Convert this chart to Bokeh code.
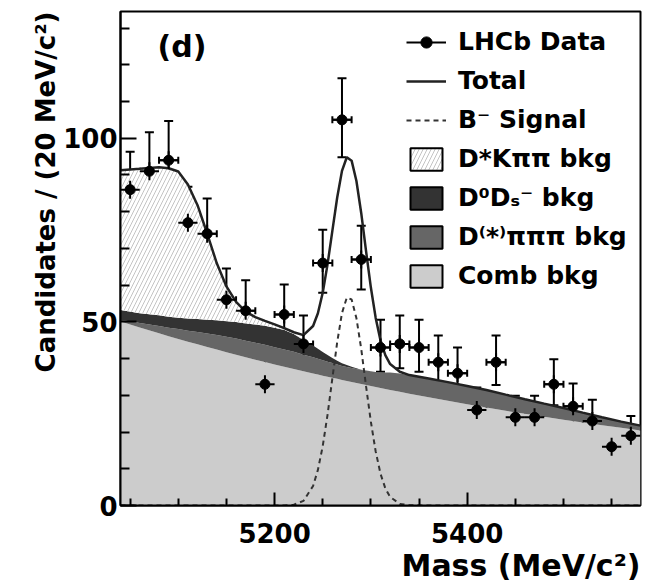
import math
from bokeh.plotting import figure
from bokeh.models import (ColumnDataSource, FixedTicker, Range1d, Legend, LegendItem,
                          Label, Whisker, TeeHead, Title)
from bokeh.embed import file_html
from bokeh.resources import INLINE

# ---------------- data ----------------
bin_centers = [5050, 5070, 5090, 5110, 5130, 5150, 5170, 5190, 5210, 5230, 5250, 5270, 5290,
               5310, 5330, 5350, 5370, 5390, 5410, 5430, 5450, 5470, 5490, 5510, 5530, 5550, 5570]
counts = [86, 91, 94, 77, 74, 56, 53, 33, 52, 44, 66, 105, 67,
          43, 44, 43, 39, 36, 26, 39, 24, 24, 33, 27, 23, 16, 19]
err_up = [10.3, 10.6, 10.7, 9.8, 9.6, 8.5, 8.3, 6.8, 8.2, 7.7, 9.1, 11.3, 9.2,
          7.6, 7.7, 7.6, 7.3, 7.0, 6.1, 7.3, 5.9, 5.9, 6.8, 6.2, 5.8, 5.1, 5.4]
err_lo = [9.3, 9.5, 9.7, 8.8, 8.6, 7.5, 7.3, 5.7, 7.2, 6.6, 8.1, 10.2, 8.2,
          6.6, 6.6, 6.6, 6.2, 6.0, 5.1, 6.2, 4.9, 4.9, 5.7, 5.2, 4.8, 4.0, 4.3]
bin_half_width = 10

fit_mass = [5040, 5060, 5080, 5090, 5100, 5110, 5120, 5130, 5140, 5150, 5160, 5170, 5180,
            5190, 5200, 5210, 5220, 5230, 5240, 5245, 5250, 5255, 5260, 5265, 5270, 5275,
            5280, 5285, 5290, 5295, 5300, 5305, 5310, 5315, 5320, 5330, 5340, 5360, 5380,
            5400, 5420, 5440, 5460, 5480, 5500, 5520, 5540, 5560, 5580]
comb_bkg = [50.10, 48.46, 46.88, 46.11, 45.35, 44.60, 43.87, 43.15, 42.44, 41.74, 41.05, 40.38,
            39.71, 39.06, 38.41, 37.78, 37.16, 36.55, 35.95, 35.65, 35.36, 35.06, 34.77, 34.49,
            34.20, 33.92, 33.64, 33.36, 33.08, 32.81, 32.54, 32.27, 32.00, 31.74, 31.48, 30.96,
            30.45, 29.45, 28.49, 27.56, 26.66, 25.79, 24.95, 24.14, 23.35, 22.59, 21.85, 21.14,
            20.45]
dpipipi_bkg = [0.5, 1.2, 2.0, 2.3, 2.7, 3.0, 3.4, 3.7, 4.0, 4.2, 4.4, 4.5, 4.6, 4.7, 4.7, 4.7,
               4.7, 4.5, 4.4, 4.3, 4.2, 4.1, 4.0, 3.9, 3.8, 3.8, 3.8, 3.8, 3.8, 3.9, 4.0, 4.1,
               4.3, 4.5, 4.7, 5.0, 5.0, 5.1, 5.1, 5.0, 4.8, 4.4, 4.0, 3.6, 3.2, 2.7, 2.2, 1.7,
               1.3]
d0ds_bkg = [2.6, 2.7, 2.9, 3.0, 3.1, 3.3, 3.5, 3.7, 4.0, 4.2, 4.5, 4.7, 5.0, 5.2, 5.3, 5.3,
            4.8, 4.0, 3.2, 2.7, 2.2, 1.8, 1.4, 1.0, 0.7, 0.5, 0.35, 0.2, 0.1, 0.05, 0.0, 0.0,
            0.0, 0.0, 0.0, 0.0, 0.0, 0.0, 0.0, 0.0, 0.0, 0.0, 0.0, 0.0, 0.0, 0.0, 0.0, 0.0, 0.0]
dstkpipi_bkg = [38.1, 39.3, 40.3, 40.4, 39.8, 36.5, 31.0, 23.5, 15.5, 9.5, 5.5, 3.2, 2.0, 1.3,
                0.9, 0.5, 0.3, 0.1, 0.0, 0.0, 0.0, 0.0, 0.0, 0.0, 0.0, 0.0, 0.0, 0.0, 0.0,
                0.0, 0.0, 0.0, 0.0, 0.0, 0.0, 0.0, 0.0, 0.0, 0.0, 0.0, 0.0, 0.0, 0.0, 0.0,
                0.0, 0.0, 0.0, 0.0, 0.0]
b_signal = [0.0, 0.0, 0.0, 0.0, 0.0, 0.0, 0.0, 0.0, 0.0, 0.0, 0.0, 0.0, 0.0, 0.0,
            0.0, 0.02, 0.21, 1.25, 5.33, 9.69, 16.15, 24.7, 34.6, 44.4, 52.4, 56.6, 56.1,
            51.0, 42.6, 32.5, 22.8, 14.7, 8.66, 4.69, 2.32, 0.44, 0.06, 0.0, 0.0, 0.0, 0.0,
            0.0, 0.0, 0.0, 0.0, 0.0, 0.0, 0.0, 0.0]

x_major_ticks = [5200, 5400]
x_minor_ticks = [5050, 5100, 5150, 5250, 5300, 5350, 5450, 5500, 5550]
y_major_ticks = [0, 50, 100]
y_minor_ticks = [10, 20, 30, 40, 60, 70, 80, 90, 110, 120, 130]

legend_labels = ["LHCb Data", "Total", "B\u207b Signal", "D*K\u03c0\u03c0 bkg",
                 "D\u2070D\u209b\u207b bkg", "D\u207d*\u207e\u03c0\u03c0\u03c0 bkg", "Comb bkg"]
x_title = "Mass (MeV/c\u00b2)"
y_title = "Candidates / (20 MeV/c\u00b2)"
panel_tag = "(d)"

# ---------------- derived stacks ----------------
n = len(fit_mass)
for arr in (comb_bkg, dpipipi_bkg, d0ds_bkg, dstkpipi_bkg, b_signal):
    assert len(arr) == n
s1 = list(comb_bkg)
s2 = [a + b for a, b in zip(s1, dpipipi_bkg)]
s3 = [a + b for a, b in zip(s2, d0ds_bkg)]
s4 = [a + b for a, b in zip(s3, dstkpipi_bkg)]
total = [a + b for a, b in zip(s4, b_signal)]
fit_src = ColumnDataSource(dict(m=fit_mass, s0=[0.0] * n, s1=s1, s2=s2, s3=s3, s4=s4,
                                sig=b_signal, tot=total))

data_src = ColumnDataSource(dict(
    x=bin_centers, y=counts,
    lo=[c - e for c, e in zip(counts, err_lo)],
    hi=[c + e for c, e in zip(counts, err_up)],
    xl=[x - bin_half_width for x in bin_centers],
    xr=[x + bin_half_width for x in bin_centers]))

FONT = "DejaVu Sans"
HATCH = dict(hatch_pattern="/", hatch_color="#c4c4c4", hatch_scale=8, hatch_weight=1)

p = figure(width=645, height=585, output_backend="svg", toolbar_location=None,
           x_range=Range1d(5040, 5580), y_range=Range1d(0, 134.5),
           min_border_left=120, min_border_right=5, min_border_top=11, min_border_bottom=80)
p.grid.visible = False
p.outline_line_color = "black"
p.outline_line_width = 2
p.background_fill_color = "white"
p.border_fill_color = "white"

# stacked components
light_r = p.varea(x="m", y1="s0", y2="s1", source=fit_src, fill_color="#cccccc")
med_r = p.varea(x="m", y1="s1", y2="s2", source=fit_src, fill_color="#666666")
dark_r = p.varea(x="m", y1="s2", y2="s3", source=fit_src, fill_color="#333333")
hatch_r = p.varea(x="m", y1="s3", y2="s4", source=fit_src, fill_color="white", **HATCH)

sig_r = p.line(x="m", y="sig", source=fit_src, line_color="#333333", line_width=2,
               line_dash="5 4")
tot_r = p.line(x="m", y="tot", source=fit_src, line_color="#222222", line_width=2.5)

# data points
vw = Whisker(base="x", lower="lo", upper="hi", dimension="height", source=data_src,
             line_color="black", line_width=2,
             lower_head=TeeHead(size=9, line_width=2, line_color="black"),
             upper_head=TeeHead(size=9, line_width=2, line_color="black"))
hw = Whisker(base="y", lower="xl", upper="xr", dimension="width", source=data_src,
             line_color="black", line_width=2,
             lower_head=TeeHead(size=7, line_width=2, line_color="black"),
             upper_head=TeeHead(size=7, line_width=2, line_color="black"))
p.add_layout(vw)
p.add_layout(hw)
hbar_r = p.segment(x0="xl", y0="y", x1="xr", y1="y", source=data_src,
                   line_color="black", line_width=2)
vmark_r = p.scatter(x="x", y="y", source=data_src, marker="dash", angle=math.pi / 2,
                    size=18, line_color="black", line_width=2)
pts_r = p.scatter(x="x", y="y", source=data_src, size=10, fill_color="black",
                  line_color="black")

# legend swatches (hidden zero-width quads, used only for the legend's boxes)
def swatch(**kw):
    r = p.quad(left="m", right="m", top="s1", bottom="s0", source=fit_src,
               line_color="black", line_width=2, **kw)
    r.visible = False
    return r

q_hatch = swatch(fill_color="white", **HATCH)
q_dark = swatch(fill_color="#333333")
q_med = swatch(fill_color="#666666")
q_light = swatch(fill_color="#cccccc")

items = [LegendItem(label=legend_labels[0], renderers=[hbar_r, vmark_r, pts_r]),
         LegendItem(label=legend_labels[1], renderers=[tot_r]),
         LegendItem(label=legend_labels[2], renderers=[sig_r]),
         LegendItem(label=legend_labels[3], renderers=[q_hatch]),
         LegendItem(label=legend_labels[4], renderers=[q_dark]),
         LegendItem(label=legend_labels[5], renderers=[q_med]),
         LegendItem(label=legend_labels[6], renderers=[q_light])]
legend = Legend(items=items, location=(280, 209), glyph_width=40, glyph_height=28,
                label_standoff=12, spacing=10, padding=6, label_height=28,
                border_line_alpha=0, background_fill_alpha=0,
                inactive_fill_alpha=0,
                label_text_font=FONT, label_text_font_style="bold",
                label_text_font_size="25px", label_text_baseline="middle",
                label_text_color="black")
p.add_layout(legend)

# axes
for ax in (p.xaxis, p.yaxis):
    ax.axis_line_width = 2
    ax.major_tick_line_width = 2
    ax.minor_tick_line_width = 2
    ax.major_tick_out = 0
    ax.minor_tick_out = 0
    ax.major_label_text_font = FONT
    ax.major_label_text_font_style = "bold"
    ax.major_label_text_font_size = "26px"
    ax.major_label_text_color = "black"
p.xaxis.ticker = FixedTicker(ticks=x_major_ticks, minor_ticks=x_minor_ticks)
p.yaxis.ticker = FixedTicker(ticks=y_major_ticks, minor_ticks=y_minor_ticks)
p.xaxis.major_tick_in = 13
p.xaxis.minor_tick_in = 7
p.yaxis.major_tick_in = 16
p.yaxis.minor_tick_in = 9
p.xaxis.major_label_standoff = 17
p.yaxis.major_label_standoff = 3

# axis titles as side-panel titles (right/top aligned like the reference)
p.add_layout(Title(text=x_title, align="right", standoff=0, text_font=FONT,
                   text_font_style="bold", text_font_size="30px", text_color="black"),
             "below")
p.add_layout(Title(text=y_title, align="right", standoff=0, text_font=FONT,
                   text_font_style="bold", text_font_size="26px", text_color="black"),
             "left")

# panel tag
p.add_layout(Label(x=37, y=459, x_units="screen", y_units="screen", text=panel_tag,
                   text_font=FONT, text_font_style="bold", text_font_size="30px",
                   text_baseline="alphabetic", text_align="left", text_color="black"))

open("out.html", "w").write(file_html(p, INLINE))
